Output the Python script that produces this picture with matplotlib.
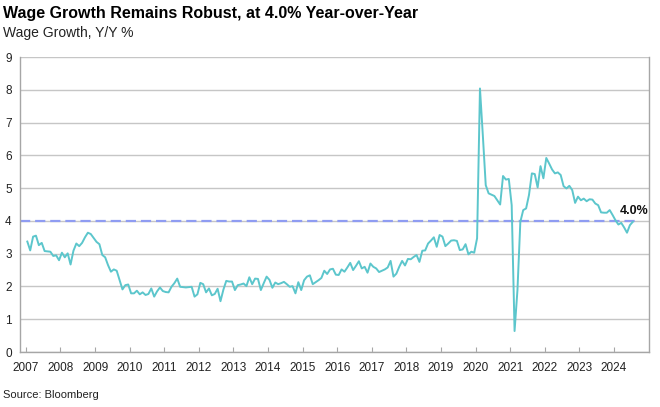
import numpy as np
import matplotlib
matplotlib.use("Agg")
import matplotlib.pyplot as plt

plt.rcParams['font.family'] = ['Liberation Sans', 'DejaVu Sans']

# ---------------- data (monthly, Jan 2007 - Jul 2024) ----------------
wage_2007 = [3.37, 3.10, 3.52, 3.55, 3.26, 3.33, 3.08, 3.07, 3.06, 2.93, 2.95, 2.80]
wage_2008 = [3.03, 2.89, 3.01, 2.67, 3.09, 3.31, 3.23, 3.33, 3.50, 3.64, 3.60, 3.48]
wage_2009 = [3.36, 3.29, 2.96, 2.89, 2.65, 2.45, 2.52, 2.48, 2.20, 1.91, 2.04, 2.06]
wage_2010 = [1.79, 1.79, 1.87, 1.76, 1.82, 1.74, 1.77, 1.94, 1.69, 1.85, 1.97, 1.86]
wage_2011 = [1.83, 1.82, 1.99, 2.10, 2.24, 1.99, 1.98, 1.97, 1.98, 1.99, 1.69, 1.76]
wage_2012 = [2.11, 2.07, 1.82, 1.94, 1.73, 1.77, 1.93, 1.55, 1.90, 2.17, 2.15, 2.15]
wage_2013 = [1.89, 2.04, 2.06, 2.09, 2.01, 2.28, 2.07, 2.24, 2.23, 1.89, 2.10, 2.30]
wage_2014 = [2.20, 1.96, 2.12, 2.07, 2.10, 2.14, 2.07, 1.99, 2.01, 1.79, 2.13, 1.89]
wage_2015 = [2.19, 2.30, 2.34, 2.07, 2.13, 2.19, 2.26, 2.48, 2.38, 2.52, 2.54, 2.36]
wage_2016 = [2.35, 2.52, 2.45, 2.58, 2.72, 2.50, 2.63, 2.77, 2.55, 2.60, 2.42, 2.70]
wage_2017 = [2.60, 2.55, 2.44, 2.48, 2.52, 2.58, 2.78, 2.30, 2.39, 2.60, 2.78, 2.64]
wage_2018 = [2.84, 2.83, 2.90, 2.96, 2.75, 3.09, 3.10, 3.31, 3.40, 3.50, 3.21, 3.57]
wage_2019 = [3.52, 3.23, 3.31, 3.40, 3.41, 3.39, 3.11, 3.13, 3.29, 2.98, 3.06, 3.03]
wage_2020 = [3.47, 8.04, 6.60, 5.09, 4.84, 4.80, 4.76, 4.63, 4.50, 5.37, 5.26, 5.28]
wage_2021 = [4.48, 0.64, 1.89, 3.97, 4.33, 4.38, 4.79, 5.45, 5.43, 5.02, 5.67, 5.30]
wage_2022 = [5.92, 5.75, 5.57, 5.45, 5.48, 5.40, 5.06, 4.99, 5.07, 4.94, 4.55, 4.74]
wage_2023 = [4.63, 4.68, 4.60, 4.66, 4.65, 4.53, 4.48, 4.26, 4.25, 4.25, 4.33, 4.18]
wage_2024 = [4.02, 3.89, 3.94, 3.80, 3.64, 3.87, 3.97]

wage = np.array(wage_2007 + wage_2008 + wage_2009 + wage_2010 + wage_2011 + wage_2012
                + wage_2013 + wage_2014 + wage_2015 + wage_2016 + wage_2017 + wage_2018
                + wage_2019 + wage_2020 + wage_2021 + wage_2022 + wage_2023 + wage_2024)
dates = 2007 + (np.arange(len(wage)) + 0.5) / 12.0   # decimal years, mid-month

latest = 4.0
years = list(range(2007, 2025))

# ---------------- plot ----------------
fig = plt.figure(figsize=(6.6, 4.07), dpi=100)
ax = fig.add_axes([0.0303, 0.1351, 0.953, 0.7248])

ax.plot(dates, wage, color='#5cc6cc', lw=1.4, zorder=3)
ax.plot([2006.83, dates[-1] + 0.12], [latest, latest], color='#8f9cf2', lw=1.6,
        dashes=(4.6, 2.2), zorder=2)
ax.text(dates[-1] - 0.38, latest + 0.12, f'{latest:.1f}%', fontsize=9, fontweight='bold',
        ha='left', va='bottom', color='#111111')

ax.set_xlim(2006.83, 2025.01)
ax.set_ylim(0, 9)
ax.set_yticks(range(0, 10))
ax.set_xticks(years)
ax.set_xticklabels([str(y) for y in years])
ax.grid(axis='y', color='#c6c6c6', lw=1.0)
ax.set_axisbelow(True)

for s in ['left', 'bottom', 'right']:
    ax.spines[s].set_color('#a6a6a6')
    ax.spines[s].set_linewidth(1.0)
ax.spines['top'].set_visible(False)

ax.tick_params(axis='y', length=0, pad=6, labelsize=8.5, labelcolor='#222222')
ax.tick_params(axis='x', direction='in', length=3.5, color='#a6a6a6', pad=7,
               labelsize=8.5, labelcolor='#222222')

fig.text(0.004, 0.985, 'Wage Growth Remains Robust, at 4.0% Year-over-Year',
         fontsize=11.5, fontweight='bold', ha='left', va='top', color='#000000')
fig.text(0.004, 0.935, 'Wage Growth, Y/Y %', fontsize=10, ha='left', va='top',
         color='#222222')
fig.text(0.004, 0.018, 'Source: Bloomberg', fontsize=8, ha='left', va='bottom',
         color='#222222')

fig.savefig('out.png', dpi=100)
